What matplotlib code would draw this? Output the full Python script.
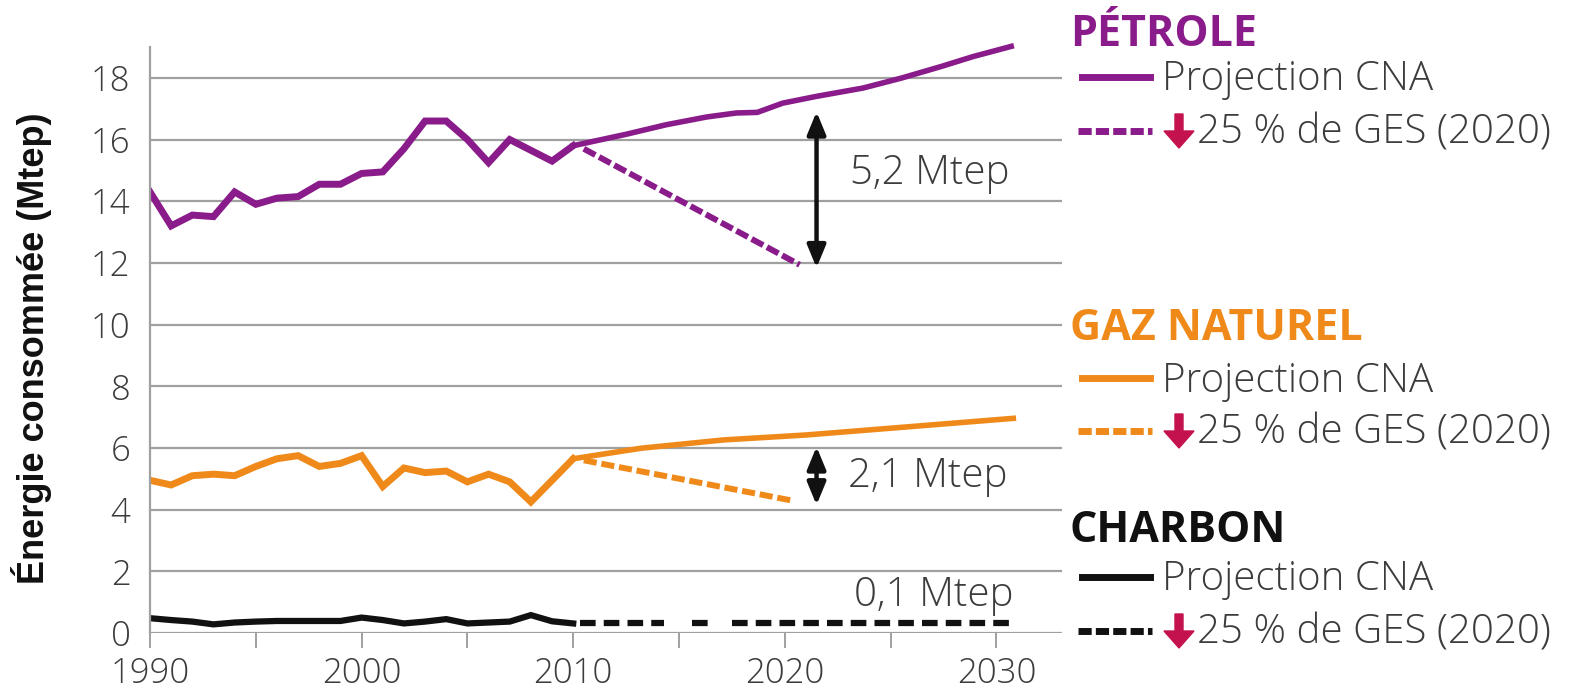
import numpy as np
import matplotlib
matplotlib.use("Agg")
import matplotlib.pyplot as plt
from matplotlib.lines import Line2D
from matplotlib.patches import FancyArrow
from matplotlib.transforms import IdentityTransform

# --- data (Mtep) ---
years_hist = list(range(1990, 2011))
petrole_hist = [14.3, 13.2, 13.55, 13.5, 14.3, 13.9, 14.1, 14.15, 14.55, 14.55, 14.9,
                14.95, 15.7, 16.6, 16.6, 16.0, 15.25, 16.0, 15.65, 15.3, 15.8]
gaz_hist = [4.95, 4.8, 5.1, 5.15, 5.1, 5.4, 5.65, 5.75, 5.4, 5.5, 5.75,
            4.75, 5.35, 5.2, 5.25, 4.9, 5.15, 4.9, 4.25, 4.95, 5.65]
charbon_hist = [0.48, 0.42, 0.37, 0.28, 0.34, 0.37, 0.39, 0.39, 0.39, 0.39, 0.5,
                0.42, 0.31, 0.37, 0.45, 0.31, 0.34, 0.37, 0.58, 0.38, 0.31]

# projection CNA
petrole_proj_years = [2010, 2012.5, 2014.4, 2016.3, 2017.7, 2018.7, 2019.9,
                      2021.5, 2023.7, 2025.5, 2027.4, 2028.9, 2030.7]
petrole_proj = [15.8, 16.17, 16.48, 16.73, 16.86, 16.88, 17.18,
                17.4, 17.67, 17.99, 18.37, 18.69, 19.02]
gaz_proj_years = [2010, 2013.2, 2017.1, 2021.0, 2025.0, 2030.8]
gaz_proj = [5.65, 5.99, 6.26, 6.42, 6.64, 6.96]

# scenario -25 % GES (2020)
petrole_red_years = [2010.5, 2020.7]
petrole_red = [15.7, 11.94]
gaz_red_years = [2010.5, 2020.3]
gaz_red = [5.6, 4.3]
# the coal dashes have two breaks in the picture
charbon_red_years = [2010.3, 2014.3, np.nan, 2015.6, 2016.6, np.nan, 2017.5, 2030.7]
charbon_red = [0.31, 0.31, np.nan, 0.31, 0.31, np.nan, 0.31, 0.31]

# gaps shown with arrows
gap_year = 2021.5
petrole_gap = (16.9, 11.84)
gaz_gap = (6.04, 4.15)
gap_labels = ["5,2 Mtep", "2,1 Mtep", "0,1 Mtep"]

yticks = list(range(0, 19, 2))
xticks = list(range(1990, 2031, 5))
xticklabels = ["1990", "", "2000", "", "2010", "", "2020", "", "2030"]

PURPLE = "#8a1b8a"
ORANGE = "#ef8a1a"
BLACK = "#111111"
RED = "#c4124e"
GRID = "#a0a0a0"
TXT = "#3c3c3c"

W, H = 1587, 696
fig = plt.figure(figsize=(W / 100, H / 100), dpi=100)
ax = fig.add_axes([150 / W, 1 - 633 / H, (1062 - 150) / W, (633 - 47) / H])

light = dict(family=["Open Sans", "DejaVu Sans"], weight="light")

# grid + axes
ax.set_xlim(1990, 2033.1)
ax.set_ylim(0, 19)
ax.set_yticks(yticks)
ax.set_xticks(xticks)
ax.set_xticklabels(xticklabels)
ax.yaxis.grid(True, color=GRID, lw=1.6)
ax.set_axisbelow(True)
for s in ["top", "right", "bottom"]:
    ax.spines[s].set_visible(False)
ax.spines["left"].set_color(GRID)
ax.spines["left"].set_linewidth(1.6)
ax.tick_params(axis="y", length=0, pad=14, labelsize=25, labelcolor=TXT)
ax.tick_params(axis="x", length=11, width=1.4, color=GRID, pad=6,
               labelsize=25, labelcolor=TXT)
for lab in ax.get_xticklabels() + ax.get_yticklabels():
    lab.set_fontfamily(light["family"])
    lab.set_fontweight("light")

# history
ax.plot(years_hist, petrole_hist, color=PURPLE, lw=5, solid_joinstyle="miter")
ax.plot(years_hist, gaz_hist, color=ORANGE, lw=5, solid_joinstyle="miter")
ax.plot(years_hist, charbon_hist, color=BLACK, lw=4.5, solid_joinstyle="miter")

# projections
ax.plot(petrole_proj_years, petrole_proj, color=PURPLE, lw=4, clip_on=False)
ax.plot(gaz_proj_years, gaz_proj, color=ORANGE, lw=4, clip_on=False)

# reductions
l1, = ax.plot(petrole_red_years, petrole_red, color=PURPLE, lw=4.3)
l1.set_dashes((2.2, 0.7))
l2, = ax.plot(gaz_red_years, gaz_red, color=ORANGE, lw=4.3)
l2.set_dashes((2.2, 0.8))
l3, = ax.plot(charbon_red_years, charbon_red, color=BLACK, lw=4.5)
l3.set_dashes((2.5, 1.3))

# gap arrows
arrow_style = "<|-|>,head_length=0.8,head_width=0.33"
for (y0, y1) in [petrole_gap, gaz_gap]:
    ax.annotate("", xy=(gap_year, y1), xytext=(gap_year, y0),
                arrowprops=dict(arrowstyle=arrow_style, color=BLACK, lw=3.2,
                                mutation_scale=17, shrinkA=0, shrinkB=0))
ax.text(2023.1, 14.9, gap_labels[0], fontsize=29, color=TXT, va="center", ha="left", **light)
ax.text(2023.0, 5.07, gap_labels[1], fontsize=29, color=TXT, va="center", ha="left", **light)
ax.text(2030.8, 1.23, gap_labels[2], fontsize=29, color=TXT, va="center", ha="right", **light)

# y label
fig.text(32 / W, 1 - 348 / H, "Énergie consommée (Mtep)", rotation=90,
         ha="center", va="center", fontsize=26, fontweight="bold",
         family=["Liberation Sans", "DejaVu Sans"], color=BLACK)

# legend blocks (pixel layout)
blocks = [("PÉTROLE", PURPLE, 35, 77, 131),
          ("GAZ NATUREL", ORANGE, 328, 378, 431),
          ("CHARBON", BLACK, 531, 577, 631)]


def fx(px):
    return px / W


def fy(py):
    return 1 - py / H


for title, col, yt, ys, yd in blocks:
    fig.text(fx(1070), fy(yt), title, color=col, fontsize=31, fontweight="bold",
             family=["Open Sans", "DejaVu Sans"], va="center", ha="left")
    fig.add_artist(Line2D([fx(1082), fx(1150)], [fy(ys), fy(ys)], color=col, lw=5))
    dl = Line2D([fx(1078), fx(1152)], [fy(yd), fy(yd)], color=col, lw=5)
    dl.set_dashes((1.9, 0.6))
    fig.add_artist(dl)
    fig.text(fx(1162), fy(ys + 3), "Projection CNA", color=TXT, fontsize=29,
             va="center", ha="left", **light)
    fig.text(fx(1197), fy(yd + 2), "25 % de GES (2020)", color=TXT, fontsize=29,
             va="center", ha="left", **light)
    fig.add_artist(FancyArrow(1179, H - (yd - 17), 0, -34, width=8, head_width=30,
                              head_length=17, length_includes_head=True,
                              color=RED, transform=IdentityTransform()))

fig.savefig("out.png", dpi=100)
